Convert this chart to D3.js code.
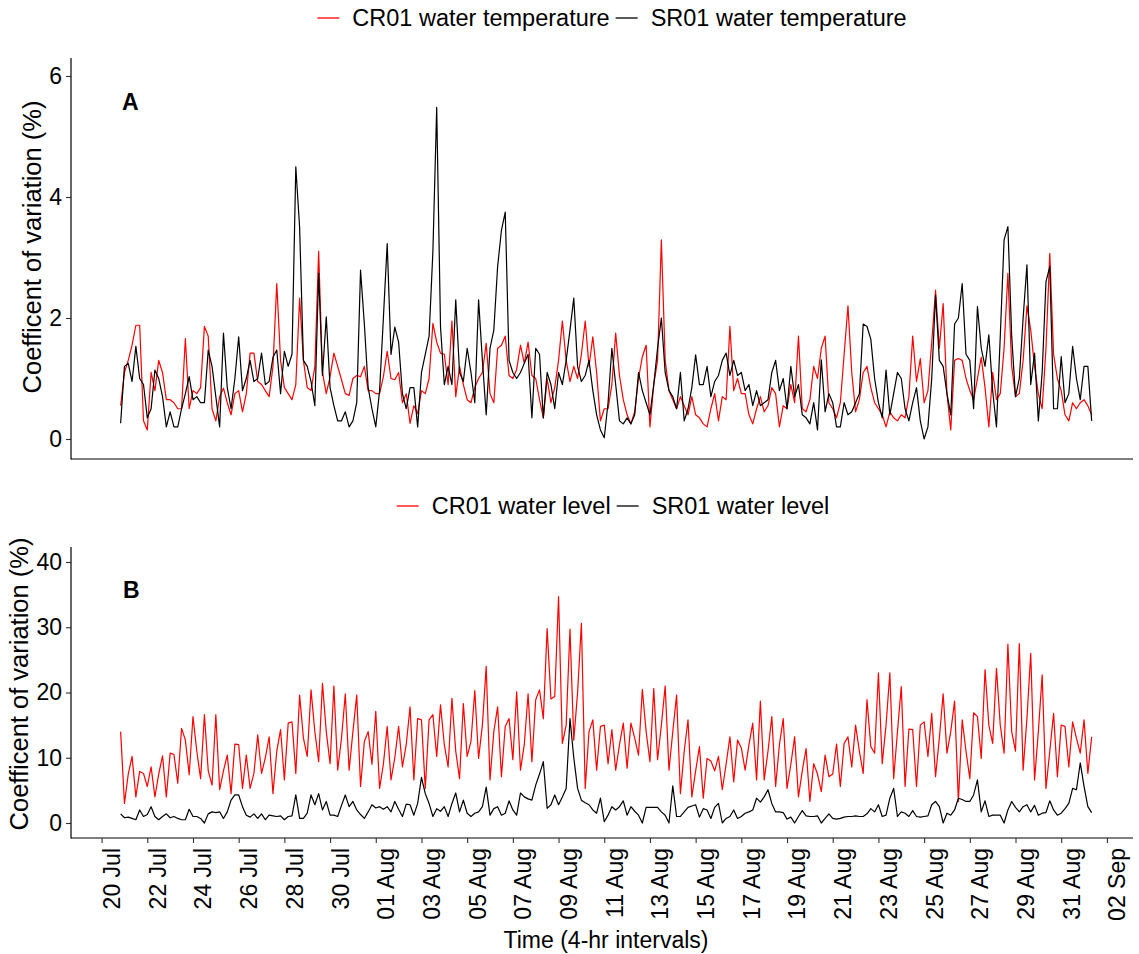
<!DOCTYPE html>
<html>
<head>
<meta charset="utf-8">
<script src="https://cdn.jsdelivr.net/npm/d3@7"></script>
<style>
  body { margin: 0; background: #fff; }
  text { font-family: "Liberation Sans", Arial, sans-serif; fill: #000; }
</style>
</head>
<body>
<svg id="chart" width="1139" height="954"></svg>
<script>
// ---------------- DATA ----------------
const startTime = "2021-07-20T20:00:00Z";   // first 4-hr interval
const stepHours = 4;

// Panel A: coefficient of variation (%) of water temperature
const crTemp = [
  0.55,1.1,1.3,1.55,1.88,1.88,0.3,0.15,1.1,0.8,
  1.3,1.1,0.65,0.65,0.6,0.5,0.5,1.66,0.5,0.8,
  0.75,0.85,1.86,1.7,0.5,0.3,0.7,0.84,0.6,0.4,
  0.75,0.8,0.45,0.75,1.42,1.42,0.95,0.9,0.8,0.7,
  1.2,2.57,1.3,0.85,0.75,0.65,0.9,2.33,1.3,0.85,
  0.8,1.2,3.1,1.1,0.75,1.03,1.42,1.2,0.98,0.75,
  0.72,1.0,1.05,1.03,1.2,0.8,0.8,0.75,0.75,1.03,
  1.45,1.0,0.98,1.1,0.6,0.75,0.26,0.55,0.42,0.8,
  0.75,1.0,1.91,1.6,1.42,1.4,0.9,1.95,0.7,1.2,
  0.9,0.65,0.6,0.85,1.0,1.1,1.58,0.75,0.6,1.5,
  1.55,1.7,1.05,1.0,1.15,1.55,1.25,1.6,1.05,1.0,
  0.65,0.35,1.0,0.6,0.85,1.3,1.95,1.3,0.95,1.2,
  1.0,1.4,1.95,1.2,1.69,1.1,0.3,0.5,0.5,0.9,
  1.75,1.05,0.65,0.4,0.25,0.45,1.0,1.36,1.55,0.2,
  0.9,1.3,3.29,1.3,0.8,0.65,0.5,0.7,0.55,0.4,
  0.7,0.4,0.35,0.25,0.2,0.5,0.75,0.3,0.7,0.65,
  1.86,0.8,1.0,0.75,0.75,0.4,0.25,0.5,0.7,0.45,
  0.55,0.85,0.75,0.2,0.55,0.5,0.9,0.6,1.7,0.5,
  0.45,0.65,1.2,1.0,1.5,1.7,0.6,0.5,0.35,0.6,
  1.4,2.2,1.1,0.45,0.65,1.1,1.2,0.85,0.6,0.5,
  0.4,0.2,0.45,0.35,0.3,0.4,0.35,0.7,1.7,0.95,
  1.33,0.6,0.8,1.6,2.46,1.5,2.24,0.75,0.15,1.3,
  1.33,1.3,1.0,0.8,0.65,1.0,1.35,0.85,0.2,1.1,
  0.65,0.75,1.5,2.74,1.2,0.7,0.75,1.3,2.2,1.8,
  1.2,0.75,0.5,1.5,3.07,1.4,1.0,0.8,0.4,0.3,
  0.6,0.5,0.6,0.65,0.55,0.4
];
const srTemp = [
  0.26,1.2,1.25,0.95,1.53,1.0,0.9,0.35,0.5,1.14,
  1.0,0.7,0.2,0.45,0.2,0.2,0.5,0.75,1.03,0.65,
  0.7,0.6,0.6,1.47,1.2,0.7,0.2,1.75,0.85,0.5,
  1.0,1.69,0.8,1.0,1.3,0.95,1.0,1.42,0.9,0.95,
  1.35,1.47,0.75,1.45,1.2,1.4,4.5,3.5,1.3,1.2,
  0.95,0.55,2.74,1.05,2.02,0.85,0.55,0.3,0.3,0.45,
  0.2,0.3,0.6,2.79,1.9,0.85,0.5,0.2,0.8,2.0,
  3.23,1.4,1.85,1.6,0.75,0.5,0.85,0.85,0.2,1.1,
  1.4,1.7,3.1,5.48,1.85,0.9,1.2,0.9,2.3,1.1,
  0.95,1.5,1.1,0.6,2.3,1.3,0.4,1.5,1.8,2.85,
  3.45,3.75,1.3,1.1,1.0,1.1,1.25,1.4,0.35,1.5,
  1.4,0.35,1.1,0.9,0.5,1.1,0.9,1.3,1.8,2.33,
  1.2,0.95,1.05,1.3,0.8,0.4,0.15,0.02,0.6,1.5,
  0.9,0.3,0.25,0.35,0.25,0.4,1.1,0.8,0.6,0.4,
  0.9,1.5,2.0,1.1,0.8,0.7,0.5,1.1,0.3,0.5,
  0.85,1.39,0.9,0.9,1.2,0.7,0.95,1.05,1.3,1.42,
  1.05,1.3,1.05,1.1,0.8,0.9,0.55,0.8,0.55,0.6,
  0.65,1.1,1.3,0.8,1.0,0.5,1.2,0.7,0.9,0.4,
  0.35,0.25,0.6,0.15,1.31,0.45,0.75,0.6,0.2,0.2,
  0.6,0.4,0.45,0.6,0.75,1.9,1.86,1.65,1.0,0.6,
  0.35,1.14,0.4,0.75,1.1,1.0,0.5,0.3,0.6,0.85,
  0.3,0.0,0.2,1.0,2.38,1.3,1.2,0.75,0.4,1.9,
  2.0,2.57,1.4,1.3,0.5,2.19,1.5,1.2,1.72,0.8,
  0.2,1.7,3.29,3.51,1.7,0.7,1.0,2.0,2.88,0.9,
  1.42,0.3,1.1,2.6,2.85,0.5,0.5,1.36,0.6,0.75,
  1.53,1.0,0.65,1.2,1.2,0.3
];

// Panel B: coefficient of variation (%) of water level
const crLevel = [
  14.0,3.0,7.5,10.2,4.0,7.9,7.6,5.6,8.6,4.0,
  7.5,10.3,4.0,10.7,10.5,6.1,14.5,12.7,7.4,16.3,
  11.0,6.8,16.6,8.0,5.8,16.6,5.1,8.0,10.4,4.5,
  12.1,12.0,5.3,10.4,5.3,7.6,13.5,7.6,10.0,13.2,
  4.5,11.0,14.3,6.6,15.3,15.5,7.6,19.6,13.0,10.2,
  20.4,14.0,9.4,21.4,14.0,9.1,21.0,8.1,13.0,19.8,
  8.1,14.0,19.6,5.6,12.5,14.0,9.0,17.1,5.3,9.0,
  14.8,6.6,10.0,14.8,8.6,12.0,17.8,6.6,16.0,15.8,
  5.3,15.8,16.6,10.2,18.1,12.0,8.6,19.1,11.0,6.8,
  18.3,10.2,12.5,20.3,9.9,15.0,24.0,6.6,14.0,17.8,
  7.1,14.8,16.0,9.7,20.1,8.1,12.0,19.8,9.4,18.9,
  20.4,16.0,29.8,19.0,19.4,34.7,12.2,15.0,29.7,12.7,
  20.0,30.6,5.3,14.0,15.8,8.1,14.8,15.0,9.1,14.3,
  8.1,12.0,15.3,8.4,15.3,13.0,10.4,20.5,14.0,9.4,
  20.6,9.7,15.0,21.0,8.1,14.0,19.6,4.5,11.0,15.8,
  4.0,8.0,11.7,3.8,9.9,9.5,8.0,10.2,5.1,9.0,
  13.2,6.3,12.7,11.5,8.1,12.0,15.3,6.6,18.7,6.6,
  11.0,16.3,5.6,12.0,16.0,5.3,9.0,13.2,4.0,8.0,
  11.4,3.3,9.1,7.5,4.8,10.4,7.1,7.5,12.1,5.6,
  12.2,13.2,8.6,15.0,11.0,7.6,18.9,11.7,10.7,23.0,
  9.1,15.0,23.0,6.8,14.0,20.9,5.6,14.4,14.3,5.6,
  15.0,15.5,10.2,16.8,7.1,13.0,19.8,10.7,14.0,18.7,
  3.3,15.8,11.0,6.8,16.9,16.3,9.9,23.5,15.0,12.2,
  23.7,15.0,10.7,27.4,14.0,11.0,27.5,8.1,16.0,26.0,
  6.6,14.0,22.7,5.3,11.0,16.8,7.1,15.0,14.8,8.6,
  15.5,13.0,10.7,15.8,7.6,13.2
];
const srLevel = [
  1.4,0.8,0.9,0.7,0.5,2.0,1.0,1.3,2.5,1.0,
  0.5,1.0,1.4,0.8,1.0,0.7,0.5,0.5,2.1,1.0,
  1.0,0.7,0.0,1.4,1.7,1.6,1.7,0.7,1.7,3.5,
  4.3,4.3,2.5,1.2,0.9,1.4,0.7,1.4,0.5,1.2,
  1.1,1.0,1.1,0.5,1.0,1.1,4.3,0.7,0.7,1.5,
  4.3,2.8,4.5,2.0,3.3,1.2,1.2,1.0,2.7,4.3,
  2.5,3.3,2.0,1.3,0.7,1.7,2.8,2.3,2.5,2.1,
  2.5,1.7,3.3,2.1,1.0,2.9,2.8,1.2,3.0,7.0,
  4.5,3.0,1.0,2.2,1.8,2.5,1.0,3.0,4.6,1.7,
  3.5,1.5,1.0,1.5,1.7,2.5,5.5,1.2,2.2,2.5,
  1.2,1.5,3.4,2.0,1.2,4.6,4.0,3.7,3.5,5.8,
  7.5,9.4,2.25,2.8,4.3,2.8,4.0,5.3,16.0,10.0,
  5.3,3.5,3.1,2.8,2.0,1.5,3.8,0.2,1.2,2.5,
  2.0,2.5,3.4,1.2,2.5,1.8,1.2,0.0,2.4,2.4,
  2.4,2.4,1.7,1.2,0.0,5.7,1.0,1.0,1.7,2.4,
  2.6,2.8,0.9,2.2,2.0,0.7,2.4,3.0,0.0,0.7,
  1.0,2.0,0.7,1.0,1.5,1.7,2.0,3.8,3.2,4.0,
  5.1,3.0,1.7,1.7,1.6,0.6,0.9,0.0,1.0,1.9,
  1.1,1.0,1.0,1.1,0.0,0.7,1.4,0.7,0.6,0.7,
  0.9,1.0,1.0,1.1,1.0,1.0,1.4,2.2,1.7,2.8,
  1.0,1.2,3.8,5.3,1.0,1.7,1.5,1.0,1.9,1.0,
  0.9,1.0,1.1,2.8,3.3,2.5,0.0,1.5,1.2,2.0,
  3.8,3.6,3.3,3.3,4.3,6.6,1.7,3.4,1.0,1.2,
  1.2,1.2,0.0,2.0,3.3,2.4,1.7,2.5,2.8,1.7,
  2.7,1.2,1.5,1.6,3.4,2.0,1.2,1.5,2.2,3.0,
  5.3,5.1,9.2,5.6,2.5,1.6
];

const xTickDates = [
  "2021-07-20","2021-07-22","2021-07-24","2021-07-26","2021-07-28","2021-07-30",
  "2021-08-01","2021-08-03","2021-08-05","2021-08-07","2021-08-09","2021-08-11",
  "2021-08-13","2021-08-15","2021-08-17","2021-08-19","2021-08-21","2021-08-23",
  "2021-08-25","2021-08-27","2021-08-29","2021-08-31","2021-09-02"
];
const yTicksA = [0, 2, 4, 6];
const yTicksB = [0, 10, 20, 30, 40];
const legendLabelsA = ["CR01 water temperature", "SR01 water temperature"];
const legendLabelsB = ["CR01 water level", "SR01 water level"];
const seriesColors = ["#ff0000", "#000000"];
const yTitle = "Coefficent of variation (%)";
const xTitle = "Time (4-hr intervals)";
const panelTags = ["A", "B"];

// ---------------- LAYOUT ----------------
const svg = d3.select("#chart");
svg.append("rect").attr("width", 1139).attr("height", 954).attr("fill", "#fff");

const left = 71, right = 1133;
const A = { top: 58, bottom: 459 };
const B = { top: 547, bottom: 838 };
const FS = 23;

const t0 = new Date(startTime).getTime();
const timeAt = i => new Date(t0 + i * stepHours * 3600e3);

const x = d3.scaleUtc()
  .domain([new Date("2021-07-20T00:00:00Z"), new Date("2021-09-02T00:00:00Z")])
  .range([101.6, 1106.9]);

const yA = d3.scaleLinear().domain([0, 6]).range([439, 76]);
const yB = d3.scaleLinear().domain([0, 40]).range([823, 562]);

function drawPanel(panel, yScale, ticks, seriesList, showX) {
  const g = svg.append("g");
  seriesList.forEach((vals, k) => {
    const line = d3.line()
      .x((d, i) => x(timeAt(i)))
      .y(d => yScale(d));
    g.append("path")
      .datum(vals)
      .attr("fill", "none")
      .attr("stroke", seriesColors[k])
      .attr("stroke-width", 1.2)
      .attr("stroke-linejoin", "round")
      .attr("d", line);
  });
  const ya = g.append("g").attr("transform", `translate(${left},0)`)
    .call(d3.axisLeft(yScale).tickValues(ticks).tickSize(5).tickPadding(4).tickFormat(d3.format("d")));
  ya.select(".domain").remove();
  ya.selectAll(".tick line").attr("stroke", "#333").attr("stroke-width", 1.1);
  ya.selectAll(".tick text").attr("font-size", FS).attr("fill", "#000")
    .attr("font-family", '"Liberation Sans", Arial, sans-serif');
  g.append("line").attr("x1", left).attr("x2", left).attr("y1", panel.top).attr("y2", panel.bottom + 0.5)
    .attr("stroke", "#000").attr("stroke-width", 1.2);
  g.append("line").attr("x1", left).attr("x2", right).attr("y1", panel.bottom).attr("y2", panel.bottom)
    .attr("stroke", "#000").attr("stroke-width", 1.2);
  if (showX) {
    const xa = g.append("g").attr("transform", `translate(0,${panel.bottom})`)
      .call(d3.axisBottom(x).tickValues(xTickDates.map(s => new Date(s + "T00:00:00Z")))
        .tickSize(5).tickFormat(d3.utcFormat("%d %b")));
    xa.select(".domain").remove();
    xa.selectAll(".tick line").attr("stroke", "#333").attr("stroke-width", 1.1);
    xa.selectAll(".tick text")
      .attr("font-size", FS).attr("fill", "#000")
      .attr("font-family", '"Liberation Sans", Arial, sans-serif')
      .attr("transform", "rotate(-90)")
      .attr("text-anchor", "end")
      .attr("x", -10).attr("y", 0).attr("dy", "0.78em");
  }
}

drawPanel(A, yA, yTicksA, [crTemp, srTemp], false);
drawPanel(B, yB, yTicksB, [crLevel, srLevel], true);

// y-axis titles
[[32, 247], [19, 684]].forEach(([cx, cy]) => {
  svg.append("text")
    .attr("transform", `translate(${cx},${cy}) rotate(-90)`)
    .attr("text-anchor", "middle").attr("dy", "0.36em")
    .attr("font-size", 25.5).text(yTitle);
});

// x-axis title
svg.append("text").attr("x", (left + right) / 2 + 4).attr("y", 940).attr("dy", "0.36em")
  .attr("text-anchor", "middle").attr("font-size", FS).text(xTitle);

// panel tags
svg.append("text").attr("x", 122).attr("y", 110).attr("font-size", FS).attr("font-weight", "bold").text(panelTags[0]);
svg.append("text").attr("x", 123).attr("y", 598).attr("font-size", FS).attr("font-weight", "bold").text(panelTags[1]);

// legends
function legend(labels, cx, cy) {
  const g = svg.append("g");
  const keyW = 22, gapKT = 13, gapTK = 6;
  const texts = labels.map(l => g.append("text").attr("font-size", 23.5).attr("dy", "0.36em").attr("y", cy).text(l));
  const widths = texts.map(t => t.node().getComputedTextLength());
  const total = labels.length * (keyW + gapKT) + d3.sum(widths) + gapTK * (labels.length - 1);
  let px = cx - total / 2;
  labels.forEach((l, k) => {
    g.append("line").attr("x1", px).attr("x2", px + keyW).attr("y1", cy).attr("y2", cy)
      .attr("stroke", seriesColors[k]).attr("stroke-width", 1.3);
    px += keyW + gapKT;
    texts[k].attr("x", px);
    px += widths[k] + gapTK;
  });
}
legend(legendLabelsA, 612, 18);
legend(legendLabelsB, 613, 506);
</script>
</body>
</html>
